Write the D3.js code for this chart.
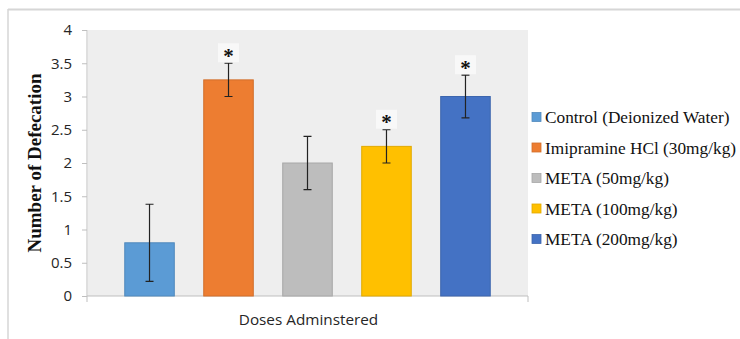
<!DOCTYPE html>
<html>
<head>
<meta charset="utf-8">
<script src="https://cdn.jsdelivr.net/npm/d3@7/dist/d3.min.js"></script>
<style>
  html, body { margin: 0; padding: 0; background: #ffffff; }
  svg { display: block; }
</style>
</head>
<body>
<svg id="chart" width="740" height="339"></svg>
<script>
// Treatment groups, mean defecation counts and their error margins
const groups = [
  "Control (Deionized Water)",
  "Imipramine HCl (30mg/kg)",
  "META (50mg/kg)",
  "META (100mg/kg)",
  "META (200mg/kg)"
];
const means = [0.8, 3.25, 2.0, 2.25, 3.0];
const errors = [0.58, 0.25, 0.4, 0.25, 0.32];
const significant = [false, true, false, true, true];
const colors = ["#5b9bd5", "#ed7d31", "#bdbdbd", "#ffc000", "#4472c4"];
const yTicks = [0, 0.5, 1, 1.5, 2, 2.5, 3, 3.5, 4];
const xTitle = "Doses Adminstered";
const yTitle = "Number of Defecation";

const svg = d3.select("#chart");
const plot = { left: 87, right: 528, top: 30, bottom: 296 };

const y = d3.scaleLinear().domain([0, 4]).range([plot.bottom, plot.top]);
const x = d3.scaleBand()
  .domain(groups)
  .range([plot.left, plot.right])
  .paddingInner(0.373)
  .paddingOuter(0.478);

// Outer frame
svg.append("line").attr("x1", 8).attr("x2", 740).attr("y1", 9.5).attr("y2", 9.5)
  .attr("stroke", "#d6d6d6").attr("stroke-width", 2);
svg.append("line").attr("x1", 8).attr("x2", 8).attr("y1", 9).attr("y2", 339)
  .attr("stroke", "#d6d6d6").attr("stroke-width", 1.5);

// Plot background
svg.append("rect")
  .attr("x", plot.left + 1).attr("y", plot.top)
  .attr("width", plot.right - plot.left - 1).attr("height", plot.bottom - plot.top)
  .attr("fill", "#eeeeee");

// Y axis
const yAxis = d3.axisLeft(y).tickValues(yTicks).tickSize(5).tickPadding(10)
  .tickFormat(d => String(d));
const yg = svg.append("g").attr("transform", `translate(${plot.left},0)`).call(yAxis);
yg.select(".domain").attr("stroke", "#bfbfbf").attr("d", `M0,${plot.top}V${plot.bottom}`);
yg.selectAll(".tick line").attr("stroke", "#bfbfbf");
yg.selectAll(".tick text")
  .attr("font-family", "'Open Sans', sans-serif")
  .attr("font-size", "15px")
  .attr("fill", "#262626");

// X axis baseline with end ticks
const xg = svg.append("g");
xg.append("path")
  .attr("d", `M${plot.left},${plot.bottom + 6}V${plot.bottom}H${plot.right}V${plot.bottom + 6}`)
  .attr("fill", "none").attr("stroke", "#bfbfbf");

// Bars
svg.append("g").selectAll("rect")
  .data(groups)
  .join("rect")
  .attr("x", d => x(d))
  .attr("y", (d, i) => y(means[i]))
  .attr("width", x.bandwidth())
  .attr("height", (d, i) => y(0) - y(means[i]))
  .attr("fill", (d, i) => colors[i])
  .attr("stroke", (d, i) => d3.color(colors[i]).darker(0.35))
  .attr("stroke-width", 1);

// Error bars
const cap = 4;
const eg = svg.append("g").attr("stroke", "#222").attr("stroke-width", 1.2);
groups.forEach((g, i) => {
  const cx = x(g) + x.bandwidth() / 2;
  const hi = y(means[i] + errors[i]);
  const lo = y(means[i] - errors[i]);
  eg.append("path")
    .attr("fill", "none")
    .attr("d", `M${cx - cap},${hi}H${cx + cap}M${cx},${hi}V${lo}M${cx - cap},${lo}H${cx + cap}`);
});

// Significance markers
const sg = svg.append("g");
groups.forEach((g, i) => {
  if (!significant[i]) return;
  const cx = x(g) + x.bandwidth() / 2;
  const top = y(means[i] + errors[i]) - 1;
  const bw = 21, bh = 19;
  sg.append("rect")
    .attr("x", cx - bw / 2).attr("y", top - bh)
    .attr("width", bw).attr("height", bh)
    .attr("fill", "#f8f8f8");
  sg.append("text")
    .attr("x", cx).attr("y", top - bh / 2 + 10)
    .attr("text-anchor", "middle")
    .attr("font-family", "'Liberation Serif', 'Times New Roman', serif")
    .attr("font-weight", "bold")
    .attr("font-size", "21px")
    .attr("fill", "#111")
    .text("*");
});

// Axis titles
svg.append("text")
  .attr("x", (plot.left + plot.right) / 2 + 1)
  .attr("y", 325)
  .attr("text-anchor", "middle")
  .attr("font-family", "'Open Sans', sans-serif")
  .attr("font-size", "15.3px")
  .attr("fill", "#262626")
  .text(xTitle);

svg.append("text")
  .attr("transform", `translate(41,${(plot.top + plot.bottom) / 2}) rotate(-90)`)
  .attr("text-anchor", "middle")
  .attr("font-family", "'Liberation Serif', 'Times New Roman', serif")
  .attr("font-weight", "bold")
  .attr("font-size", "19px")
  .attr("fill", "#111")
  .text(yTitle);

// Legend
const legend = svg.append("g").attr("transform", "translate(532,0)");
const rowY = d3.scalePoint().domain(groups).range([117, 239]);
groups.forEach((g, i) => {
  const cy = rowY(g);
  legend.append("rect")
    .attr("x", 0).attr("y", cy - 4.5)
    .attr("width", 9).attr("height", 9)
    .attr("fill", colors[i])
    .attr("stroke", d3.color(colors[i]).darker(0.35))
    .attr("stroke-width", 0.8);
  legend.append("text")
    .attr("x", 13).attr("y", cy + 6)
    .attr("font-family", "'Liberation Serif', 'Times New Roman', serif")
    .attr("font-size", "17.3px")
    .attr("fill", "#111")
    .text(g);
});
</script>
</body>
</html>
